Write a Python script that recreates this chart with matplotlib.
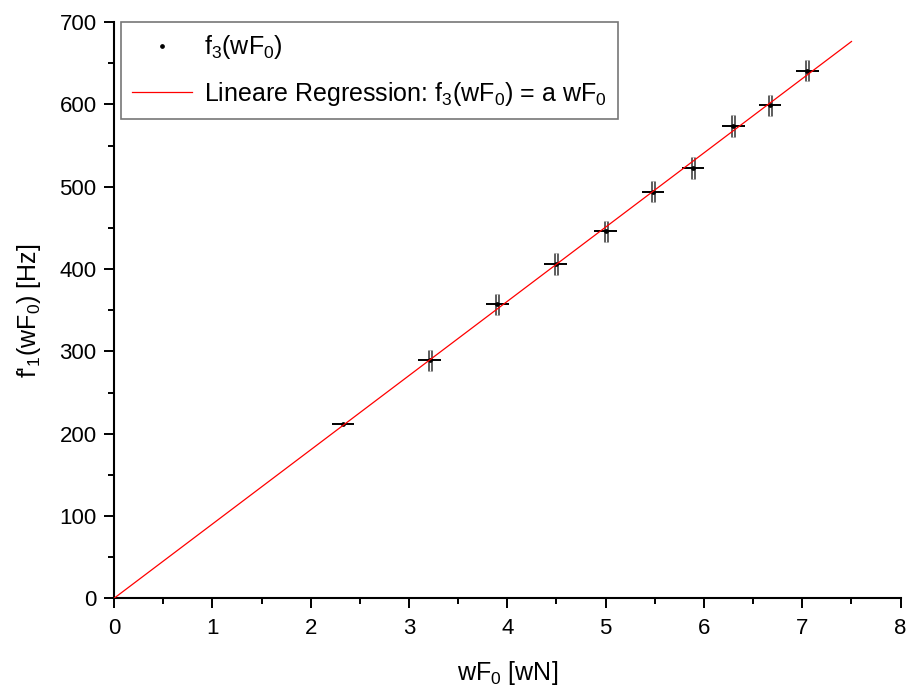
import numpy as np
import matplotlib.pyplot as plt
from matplotlib.ticker import MultipleLocator

plt.rcParams['font.family'] = ['Liberation Sans', 'DejaVu Sans']
plt.rcParams['mathtext.default'] = 'regular'

# Messwerte
wF0 = [2.33, 3.21, 3.90, 4.49, 5.00, 5.48, 5.89, 6.30, 6.67, 7.05]
f3 = [212, 289, 357, 406, 446, 494, 523, 574, 599, 641]
x_err = [0.115] * 10
y_err = [0, 13, 13, 13, 13, 13, 13, 13, 13, 13]

# Regression f3 = a * wF0
a = 90.2
x_fit = [0, 7.5]

fig = plt.figure(figsize=(9.07, 6.92), dpi=100)
ax = fig.add_axes([0.1257, 0.1354, 0.8673, 0.8326])

x = np.array(wF0)
y = np.array(f3)

# vertikale Fehlerbalken (doppelte Linie)
ax.errorbar(x, y, yerr=y_err, fmt='none', ecolor='#3a3a3a', elinewidth=3.3, capsize=0, zorder=2)
ax.errorbar(x, y, yerr=y_err, fmt='none', ecolor='white', elinewidth=1.0, capsize=0, zorder=3)
ax.errorbar(x, y, xerr=x_err, fmt='none', ecolor='black', elinewidth=1.4, capsize=0, zorder=4)
ax.plot(x, y, 'o', color='black', markersize=2.4, linestyle='none', zorder=5,
        label='f$_3$(wF$_0$)')
ax.plot(x_fit, [a * v for v in x_fit], color='red', linewidth=0.9, zorder=6,
        label='Lineare Regression: f$_3$(wF$_0$) = a wF$_0$')

ax.set_xlim(0, 8)
ax.set_ylim(0, 700)
ax.xaxis.set_major_locator(MultipleLocator(1))
ax.xaxis.set_minor_locator(MultipleLocator(0.5))
ax.yaxis.set_major_locator(MultipleLocator(100))
ax.yaxis.set_minor_locator(MultipleLocator(50))
ax.tick_params(which='both', direction='out', width=1.4, labelsize=16)
ax.tick_params(which='major', length=7.5)
ax.tick_params(which='minor', length=4.3)
ax.tick_params(axis='y', which='major', pad=5)
ax.tick_params(axis='x', which='major', pad=7)
for s in ['top', 'right']:
    ax.spines[s].set_visible(False)
for s in ['left', 'bottom']:
    ax.spines[s].set_linewidth(1.5)

ax.set_xlabel('wF$_0$ [wN]', fontsize=18, labelpad=14)
ax.set_ylabel("f'$_1$(wF$_0$) [Hz]", fontsize=18, labelpad=12)

leg = ax.legend(loc='upper left', bbox_to_anchor=(0.009, 1.0), fontsize=18, fancybox=False,
                frameon=True, edgecolor='#555555', handlelength=2.4, borderpad=0.45,
                labelspacing=0.75, handletextpad=0.45, borderaxespad=0.0)
leg.get_frame().set_linewidth(1.2)

fig.savefig('out.png', dpi=100)
